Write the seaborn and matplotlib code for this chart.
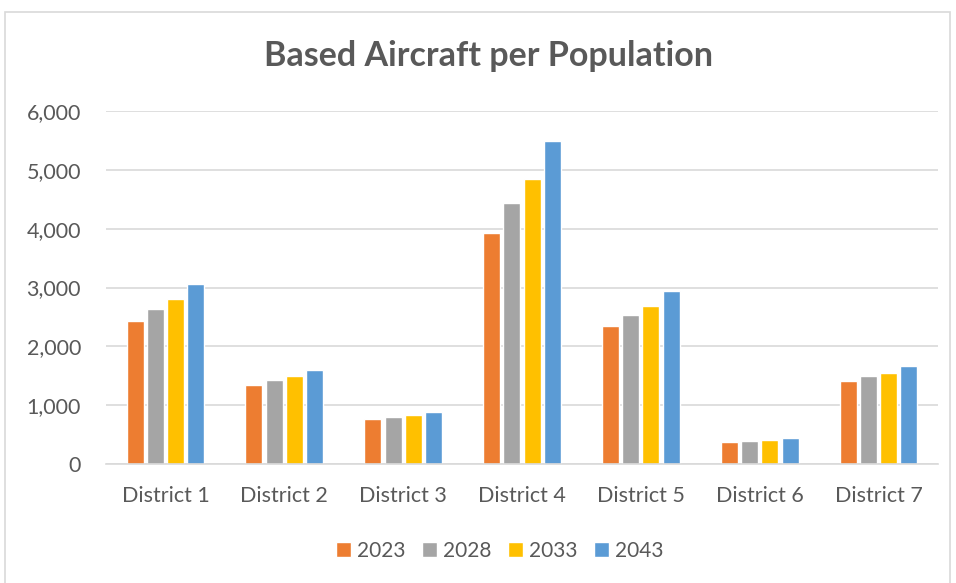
import matplotlib
matplotlib.use("Agg")
import matplotlib.pyplot as plt
import seaborn as sns
import pandas as pd
from matplotlib.patches import Rectangle
from matplotlib.ticker import FuncFormatter

districts = ["District 1", "District 2", "District 3", "District 4",
             "District 5", "District 6", "District 7"]
years = ["2023", "2028", "2033", "2043"]
v2023 = [2425, 1338, 765, 3934, 2342, 374, 1406]
v2028 = [2636, 1423, 805, 4433, 2534, 391, 1497]
v2033 = [2800, 1491, 833, 4842, 2690, 408, 1555]
v2043 = [3056, 1598, 879, 5498, 2942, 437, 1667]
colors = ["#ED7D31", "#A5A5A5", "#FFC000", "#5B9BD5"]

rows = []
for y, vals in zip(years, [v2023, v2028, v2033, v2043]):
    for d, v in zip(districts, vals):
        rows.append({"District": d, "Year": y, "Value": v})
df = pd.DataFrame(rows)

sns.set_theme(style="white")
plt.rcParams["font.family"] = ["Lato", "DejaVu Sans"]
txt = "#595959"

fig = plt.figure(figsize=(9.56, 5.83), dpi=100)
ax = fig.add_axes([106/956, 1 - 464/583, (938-106)/956, (464-111)/583])

sns.barplot(data=df, x="District", y="Value", hue="Year", palette=colors,
            width=0.68, ax=ax, legend=True, saturation=1)
for p in ax.patches:
    w = p.get_width()
    if w > 0:
        p.set_x(p.get_x() + w * 0.08)
        p.set_width(w * 0.84)

ax.set_ylim(0, 6000)
ax.set_yticks(range(0, 6001, 1000))
ax.yaxis.set_major_formatter(FuncFormatter(lambda v, _: f"{int(v):,}"))
ax.grid(axis="y", color="#D9D9D9", linewidth=1.2)
ax.set_axisbelow(True)
for s in ["top", "right", "left"]:
    ax.spines[s].set_visible(False)
ax.spines["bottom"].set_color("#D9D9D9")
ax.spines["bottom"].set_linewidth(1.2)
ax.set_xlabel("")
ax.set_ylabel("")
ax.tick_params(axis="both", length=0, labelsize=15.5, colors=txt)
ax.tick_params(axis="y", pad=18)
ax.tick_params(axis="x", pad=16)

leg = ax.legend(loc="upper center", bbox_to_anchor=(0.5 - 22/832, -0.165), ncol=4,
                frameon=False, fontsize=15, handlelength=0.7, handleheight=0.7,
                handletextpad=0.3, columnspacing=0.8)
for t in leg.get_texts():
    t.set_color(txt)

fig.text(488/956, 1 - 56/583, "Based Aircraft per Population", ha="center",
         va="center", fontsize=24.5, fontweight="bold", color=txt)

fig.patches.append(Rectangle((5/956, -0.01), (950-5)/956, 1 - 12/583 + 0.01,
                             transform=fig.transFigure, fill=False,
                             edgecolor="#D9D9D9", linewidth=1.2))

fig.savefig("out.png", dpi=100)
